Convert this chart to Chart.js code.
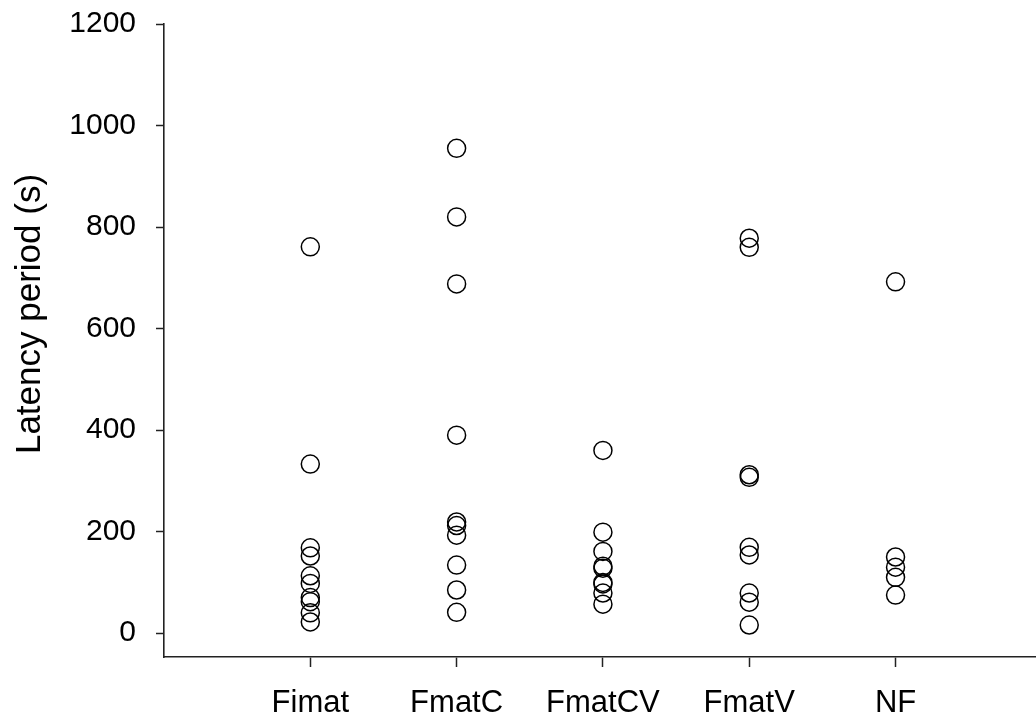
<!DOCTYPE html>
<html>
<head>
<meta charset="utf-8">
<script src="https://cdn.jsdelivr.net/npm/chart.js@4"></script>
<style>
  html, body { margin: 0; padding: 0; background: #fff; }
  #wrap { width: 1036px; height: 720px; }
</style>
</head>
<body>
<div id="wrap"><canvas id="myChart" width="1036" height="720"></canvas></div>
<script>
// groups on the x axis
const categories = ['Fimat', 'FmatC', 'FmatCV', 'FmatV', 'NF'];

// latency period (s) per group
const fimat = [761, 333, 168, 152, 113, 98, 70, 62, 40, 22];
const fmatC = [955, 820, 688, 390, 219, 212, 193, 134, 85, 41];
const fmatCV = [360, 199, 161, 132, 128, 100, 97, 79, 57];
const fmatV = [778, 760, 312, 307, 169, 154, 79, 61, 16];
const nf = [692, 150, 130, 110, 75];

const yTicks = [0, 200, 400, 600, 800, 1000, 1200];

const groups = [fimat, fmatC, fmatCV, fmatV, nf];
const points = [];
groups.forEach(function (vals, i) {
  vals.forEach(function (v) {
    points.push({ x: i, y: v });
  });
});

const font = 'Liberation Sans, Arial, sans-serif';

// y title drawn by hand so it sits where the original puts it
const yTitle = {
  id: 'yTitle',
  afterDraw: function (chart) {
    const c = chart.ctx;
    c.save();
    c.translate(30, 314);
    c.rotate(-Math.PI / 2);
    c.font = '35px ' + font;
    c.fillStyle = '#000';
    c.textAlign = 'center';
    c.textBaseline = 'middle';
    c.fillText('Latency period (s)', 0, 0);
    c.restore();
  }
};

const ctx = document.getElementById('myChart').getContext('2d');
const myChart = new Chart(ctx, {
  type: 'scatter',
  data: {
    datasets: [{
      label: 'Latency',
      data: points,
      pointRadius: 9,
      pointHoverRadius: 9,
      pointBorderWidth: 1.5,
      pointBorderColor: '#000',
      pointBackgroundColor: 'rgba(255,255,255,0)',
      clip: false
    }]
  },
  options: {
    responsive: false,
    animation: false,
    layout: { autoPadding: false, padding: { top: 24, right: 0, left: 0, bottom: 0 } },
    plugins: {
      legend: { display: false },
      tooltip: { enabled: false }
    },
    scales: {
      x: {
        type: 'linear',
        min: -1,
        max: 4.96,
        afterBuildTicks: function (axis) {
          axis.ticks = categories.map(function (c, i) { return { value: i }; });
        },
        afterFit: function (axis) {
          axis.height = 63;
          axis.paddingLeft = 0;
          axis.paddingRight = 0;
        },
        ticks: {
          autoSkip: false,
          maxRotation: 0,
          padding: 18,
          color: '#000',
          font: { family: font, size: 31 },
          callback: function (v) { return categories[v]; }
        },
        grid: {
          drawOnChartArea: false,
          drawTicks: true,
          tickLength: 10,
          tickWidth: 1.5,
          tickColor: '#222'
        },
        border: { display: true, color: '#222', width: 1.6 }
      },
      y: {
        min: -47,
        max: 1200,
        afterBuildTicks: function (axis) {
          axis.ticks = yTicks.map(function (v) { return { value: v }; });
        },
        afterFit: function (axis) {
          axis.width = 164;
          axis.paddingTop = 0;
          axis.paddingBottom = 0;
        },
        ticks: {
          padding: 20,
          color: '#000',
          font: { family: font, size: 30 },
          callback: function (v) { return String(v); }
        },
        grid: {
          drawOnChartArea: false,
          drawTicks: true,
          tickLength: 8,
          tickWidth: 1.5,
          tickColor: '#222'
        },
        border: { display: true, color: '#222', width: 1.6 }
      }
    }
  },
  plugins: [yTitle]
});
</script>
</body>
</html>
